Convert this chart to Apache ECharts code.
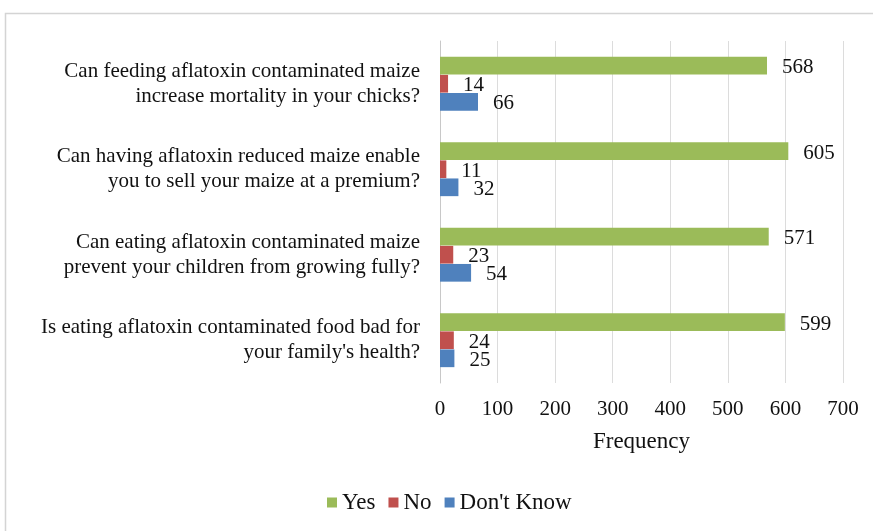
<!DOCTYPE html>
<html>
<head>
<meta charset="utf-8">
<script src="https://cdn.jsdelivr.net/npm/echarts@6/dist/echarts.min.js"></script>
<style>
  html, body { margin: 0; padding: 0; background: #fff; }
  #main { width: 873px; height: 531px; }
</style>
</head>
<body>
<div id="main"></div>
<script>
const questions = [
  'Can feeding aflatoxin contaminated maize\nincrease mortality in your chicks?',
  'Can having aflatoxin reduced maize enable\nyou to sell your maize at a premium?',
  'Can eating aflatoxin contaminated maize\nprevent your children from growing fully?',
  'Is eating aflatoxin contaminated food bad for\nyour family\'s health?'
]
const yesVals = [568, 605, 571, 599]
const noVals = [14, 11, 23, 24]
const dontKnowVals = [66, 32, 54, 25]
const xTicks = [0, 100, 200, 300, 400, 500, 600, 700]

const font = 'Liberation Serif, Times New Roman, serif'

const chart = echarts.init(document.getElementById('main'))

const mkSeries = (name, data, color) => ({
  name: name,
  type: 'bar',
  data: data,
  barWidth: 17.7,
  barGap: '2%',
  itemStyle: { color: color },
  label: {
    show: true,
    position: 'right',
    distance: 15,
    offset: [0, 2],
    color: '#111',
    fontFamily: font,
    fontSize: 21
  }
})

chart.setOption({
  animation: false,
  textStyle: { fontFamily: font },
  graphic: [{
    type: 'rect',
    shape: { x: 5.5, y: 13.5, width: 900, height: 600 },
    style: { fill: 'none', stroke: '#d4d4d4', lineWidth: 1.5 },
    silent: true
  }],
  grid: {
    left: 440,
    right: 30,
    top: 41,
    bottom: 148
  },
  legend: {
    bottom: 12,
    left: 322,
    itemWidth: 10,
    itemHeight: 10,
    itemGap: 13,
    icon: 'rect',
    textStyle: { fontFamily: font, fontSize: 23, color: '#111' },
    data: ['Yes', 'No', "Don't Know"]
  },
  xAxis: {
    type: 'value',
    min: xTicks[0],
    max: xTicks[xTicks.length - 1],
    interval: 100,
    name: 'Frequency',
    nameLocation: 'middle',
    nameGap: 47,
    nameTextStyle: { fontFamily: font, fontSize: 23, color: '#111' },
    axisLine: { show: false },
    axisTick: { show: false },
    axisLabel: { fontFamily: font, fontSize: 21, color: '#111', margin: 16 },
    splitLine: { lineStyle: { color: '#dcdcdc', width: 1 } }
  },
  yAxis: {
    type: 'category',
    inverse: true,
    data: questions,
    axisLine: { show: true, lineStyle: { color: '#c8c8c8' } },
    axisTick: { show: false },
    axisLabel: {
      fontFamily: font,
      fontSize: 21,
      color: '#111',
      margin: 20,
      align: 'right',
      lineHeight: 25
    }
  },
  series: [
    mkSeries('Yes', yesVals, '#9bbb59'),
    mkSeries('No', noVals, '#c0504d'),
    mkSeries("Don't Know", dontKnowVals, '#4f81bd')
  ]
})
</script>
</body>
</html>
